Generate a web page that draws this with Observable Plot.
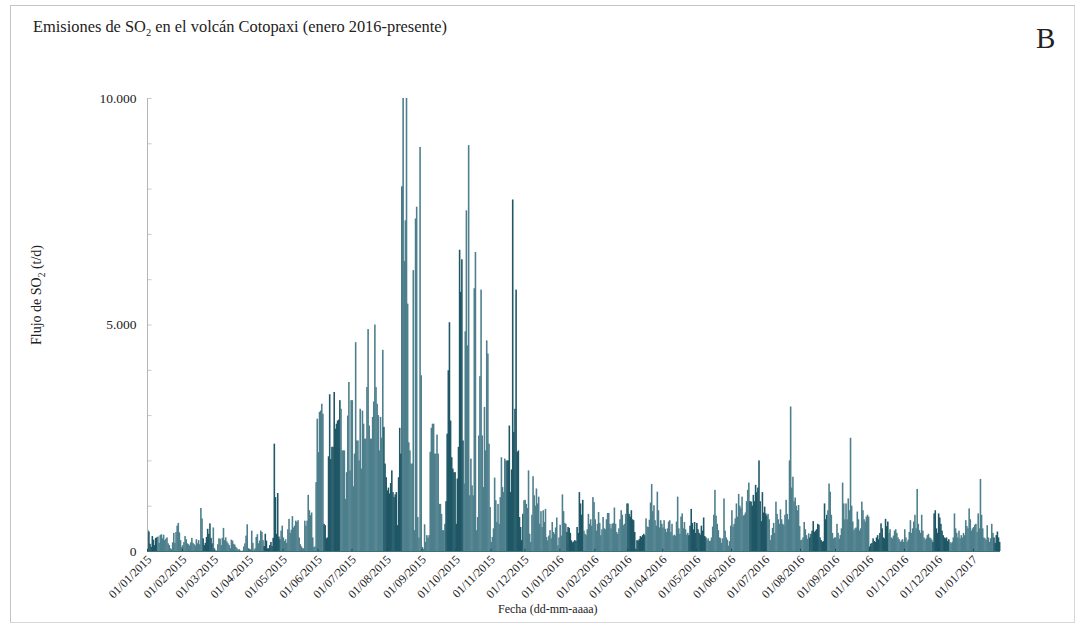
<!DOCTYPE html>
<html lang="es">
<head>
<meta charset="utf-8">
<script src="https://cdn.jsdelivr.net/npm/d3@7"></script>
<script src="https://cdn.jsdelivr.net/npm/@observablehq/plot@0.6"></script>
<style>
  html, body { margin: 0; padding: 0; background: #fff; overflow: hidden; }
  body { width: 1081px; height: 633px; position: relative; font-family: "Liberation Serif", serif; color: #222; }
  #chart svg { display: block; position: absolute; left: 0; top: 0; background: transparent; }
  #frame { position: absolute; left: 10px; top: 5px; width: 1063px; height: 616px; border: 1px solid #d6d6d6; border-left-color: #c4c4c4; border-top-color: #c4c4c4; pointer-events: none; }
  #title { position: absolute; left: 33px; top: 17px; font-size: 16.4px; white-space: nowrap; }
  #title sub { font-size: 10.5px; line-height: 0; }
  #letter { position: absolute; left: 1036px; top: 21px; font-size: 29px; line-height: 34px; }
  #xlabel { position: absolute; left: 498px; top: 602px; font-size: 12px; white-space: nowrap; }
  #ylabel { position: absolute; left: 37px; top: 295px; font-size: 14px; white-space: nowrap; transform: translate(-50%, -50%) rotate(-90deg); }
  #ylabel sub { font-size: 9.5px; line-height: 0; }
</style>
</head>
<body>
<div id="chart"></div>
<div id="frame"></div>
<div id="title">Emisiones de SO<sub>2</sub> en el volcán Cotopaxi (enero 2016-presente)</div>
<div id="letter">B</div>
<div id="ylabel">Flujo de SO<sub>2</sub> (t/d)</div>
<div id="xlabel">Fecha (dd-mm-aaaa)</div>
<script>
const jan15 = [460,430,160,90,330,250,130,290,300,320,180,350,370,280,360,240,270,300,170,130,60,40,190,400,180,420,560,620,410,240,90];
const feb15 = [130,200,330,260,170,150,120,190,290,180,150,120,260,170,240,150,950,720,280,130,180,310,490,380,610,290,170,520];
const mar15 = [60,20,10,150,280,270,130,290,510,240,300,210,170,130,60,250,230,160,140,90,60,30,40,10,0,10,100,170,340,590,60];
const apr15 = [5,40,450,180,30,60,310,370,170,230,450,420,240,110,380,230,60,60,130,200,110,290,2370,1190,380,1280,320,260,450,560];
const may15 = [300,220,260,180,480,710,400,470,770,520,560,670,640,680,300,150,100,60,60,670,560,670,1240,900,790,850,300,90,100,1520,2920];
const jun15 = [2180,3070,3100,3250,3030,600,570,280,300,2090,3460,2030,2300,2300,3510,2700,2810,2880,2900,3330,3140,2220,2220,2220,1150,1740,2990,3730,1780,3330];
const jul15 = [3330,1430,2150,4610,2440,2440,2000,3140,1820,3100,2810,2480,2480,3620,4900,2770,2480,2480,2960,3300,5000,3620,3250,3000,2220,2960,2500,4440,2740,1930,1630];
const aug15 = [1340,1400,1270,1500,1780,1300,1190,1250,1300,570,1630,2720,2150,8050,10000,6400,7300,10000,5460,2400,2220,1930,1930,6200,460,7340,7600,750,300,8920,3880];
const sep15 = [90,50,590,200,350,300,350,2190,2720,2810,2810,2150,2150,2570,2150,1040,1040,820,460,460,600,1100,2590,3990,5050,2880,2070,1820,1740,1740];
const oct15 = [600,1600,2300,6650,5720,6440,2440,1490,4850,7520,4540,8960,1230,2040,1450,1230,5800,6600,460,750,2550,3860,5770,2550,1410,3180,2220,4650,4360,2370,970];
const nov15 = [200,310,500,1620,1120,640,1040,600,1190,2070,1410,1300,2040,1990,2000,2000,2770,1300,1800,7760,2630,3140,5770,2190,2220,750,530,240,820,1120];
const dec15 = [1130,1040,950,1780,380,200,800,1650,1230,1000,1380,1050,1200,600,880,530,900,640,930,310,235,340,460,280,640,420,380,520,740,125,300];
const jan16 = [580,340,1250,880,620,600,420,530,510,400,235,190,210,240,220,530,400,1300,1050,800,1130,450,380,350,480,820,600,700,560,1190,1080];
const feb16 = [700,450,600,860,620,350,480,750,500,480,700,840,840,600,500,600,620,960,600,420,380,500,700,900,800,570,600,820,1050];
const mar16 = [1050,820,760,900,700,680,420,50,240,230,260,330,310,350,380,350,720,540,530,690,1070,1480,880,1010,680,560,1310,900,520,680,600];
const apr16 = [520,680,490,420,500,650,680,420,600,340,360,340,650,1200,500,380,760,830,500,640,480,360,400,350,560,930,620,480,640,400];
const may16 = [620,480,400,360,560,450,740,330,300,240,280,220,230,300,540,800,1350,780,600,460,300,280,180,280,1160,450,300,250,120,220,560];
const jun16 = [900,540,600,720,1050,760,1260,1000,950,1200,780,800,850,1100,1350,1510,1100,1090,1000,1240,1100,1460,1300,1400,2000,1100,660,1300,850,980];
const jul16 = [830,780,820,700,240,350,510,620,400,1090,820,700,600,920,700,600,580,800,1130,820,700,2000,3190,1400,1640,1100,1180,1000,900,1015,550];
const aug16 = [240,250,300,640,480,350,270,390,300,380,450,660,420,450,480,600,580,300,240,200,220,1050,700,800,900,1490,1310,800,400,280,300];
const sep16 = [300,600,400,270,350,500,1510,1050,700,1050,700,1160,900,2500,1000,650,460,500,520,870,700,450,500,1090,900,700,650,760,800,760];
const oct16 = [100,160,180,280,220,200,300,350,260,400,610,500,300,280,710,550,650,400,480,300,280,340,450,480,400,300,260,200,230,260,200];
const nov16 = [480,300,200,250,420,680,400,500,650,800,500,1370,600,460,400,800,450,300,250,280,350,380,300,280,250,200,830,900,500,400];
const dec16 = [830,740,600,450,350,300,280,300,220,260,200,170,200,300,830,500,400,300,450,280,350,300,400,350,680,550,500,940,700,450,500];
const jan17 = [530,580,600,420,830,500,1590,800,500,300,280,250,570,300,200,280,600,400,300,180,350,430,300,200];

const months = [jan15,feb15,mar15,apr15,may15,jun15,jul15,aug15,sep15,oct15,nov15,dec15,jan16,feb16,mar16,apr16,may16,jun16,jul16,aug16,sep16,oct16,nov16,dec16,jan17];

// Tramos más oscuros de las barras en la figura original (inicio, fin).
const darkBands = [
  ["2015-01-01","2015-01-10"],["2015-02-19","2015-02-28"],["2015-04-14","2015-04-29"],
  ["2015-06-06","2015-06-21"],["2015-07-29","2015-08-15"],["2015-09-22","2015-10-08"],
  ["2015-11-15","2015-11-30"],["2016-01-07","2016-01-22"],["2016-03-01","2016-03-17"],
  ["2016-04-24","2016-05-10"],["2016-06-17","2016-07-03"],["2016-08-09","2016-08-25"],
  ["2016-10-01","2016-10-18"],["2016-11-26","2016-12-11"],["2017-01-19","2017-01-26"]
].map(([a, b]) => [new Date(a), new Date(b)]);

const start = new Date(Date.UTC(2015, 0, 1));
const rows = months.flatMap((vals, m) => vals.map((v, i) => {
  const d = new Date(Date.UTC(2015, m, 1 + i));
  return { d, e: d3.utcDay.offset(d, 1), v, dark: darkBands.some(([a, b]) => d >= a && d < b) };
}));
const end = rows[rows.length - 1].e;
const monthTicks = d3.utcMonth.range(start, end);
const fmtDate = d3.utcFormat("%d/%m/%Y");
const fmtY = v => String(v).replace(/\B(?=(\d{3})(?!\d))/g, ".");
const yLabels = [0, 5000, 10000];
const yMinor = d3.range(0, 10001, 1000);

const chart = Plot.plot({
  width: 1081,
  height: 633,
  marginLeft: 147,
  marginRight: 81,
  marginTop: 98,
  marginBottom: 82,
  style: { fontFamily: "'Liberation Serif', serif", color: "#222", background: "transparent" },
  x: { type: "utc", domain: [start, end] },
  y: { domain: [0, 10000] },
  marks: [
    Plot.rectY(rows, {
      x1: "d", x2: "e", y1: 0, y2: "v", insetRight: -0.45,
      fill: d => d.dark ? "#1f5766" : "#4d7f8c"
    }),
    Plot.ruleY(yMinor, { x1: start, x2: d3.utcDay.offset(start, 4), stroke: "#c9c9c9" }),
    Plot.ruleX([start], { y1: 0, y2: 10000, stroke: "#b4b4b4" }),
    Plot.ruleY([0], { stroke: "#3f6f7c" }),
    Plot.ruleX(monthTicks, { y1: 0, y2: 50, stroke: "#1c4b59" }),
    Plot.axisY({
      ticks: yLabels, tickFormat: fmtY, tickSize: 0, tickPadding: 11, fontSize: 13.5, label: null
    }),
    Plot.axisX({
      ticks: monthTicks, tickFormat: fmtDate, tickSize: 0, tickRotate: -45, tickPadding: 6, dx: 2,
      fontSize: 12, label: null
    })
  ]
});
document.getElementById("chart").append(chart);
</script>
</body>
</html>
